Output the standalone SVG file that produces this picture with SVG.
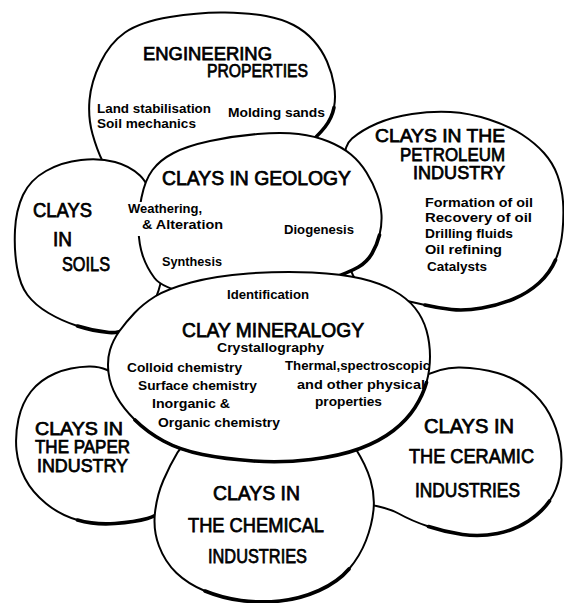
<svg xmlns="http://www.w3.org/2000/svg" width="564" height="603" viewBox="0 0 564 603">
<style>
.o{fill:#fff;stroke:#000;stroke-width:2;stroke-linejoin:round}
.k{fill:none;stroke:#000;stroke-width:3.6;stroke-linecap:round}
.h{font-family:"Liberation Sans",Arial,sans-serif;font-size:20px;fill:#000;stroke:#000;stroke-width:0.75}
.t{font-size:18.5px}
.s{font-family:"Liberation Sans",Arial,sans-serif;font-size:13px;font-weight:bold;fill:#000}
</style>
<rect width="564" height="603" fill="#fff"/>
<g id="engineering">
<path class="o" d="M125,32.5 Q140,22 170,17 Q200,12 225,12.5 Q250,13 266,16 Q282,19 293.5,25 Q305,31 313.5,40.5 Q322,50 327,61.5 Q332,73 334,85 Q336,97 334,107.5 Q332,118 325,127 Q318,136 304,148 Q290,160 255,169 Q220,178 185,181.5 Q150,185 129,178.5 Q108,172 102.5,161 Q97,150 92.5,134 Q88,118 89.5,100 Q91,82 100.5,62.5 Q110,43 125,32.5 Z"/>
<path class="k" d="M334,107.5 Q332,118 325,127 Q318,136 304,148"/>
<text class="h t" x="143" y="60" textLength="129" lengthAdjust="spacingAndGlyphs">ENGINEERING</text>
<text class="h t" x="207" y="77" textLength="101" lengthAdjust="spacingAndGlyphs">PROPERTIES</text>
<text class="s" x="97" y="113" textLength="114" lengthAdjust="spacingAndGlyphs">Land stabilisation</text>
<text class="s" x="97" y="128" textLength="99" lengthAdjust="spacingAndGlyphs">Soil mechanics</text>
<text class="s" x="228" y="117" textLength="97" lengthAdjust="spacingAndGlyphs">Molding sands</text>
</g>
<g id="petroleum">
<path class="o" d="M352,138.5 Q362,130 377,123.5 Q392,117 412,114 Q432,111 450.5,112 Q469,113 489,119.5 Q509,126 522,134.5 Q535,143 544,153 Q553,163 557.5,175.5 Q562,188 563,201.5 Q564,215 562.5,231 Q561,247 555.5,260 Q550,273 539,283 Q528,293 513.5,299 Q499,305 482,308 Q465,311 451.5,309.5 Q438,308 425,305 Q412,302 398.5,299 Q385,296 370,290.5 Q355,285 350,267.5 Q345,250 346,222.5 Q347,195 344.5,171 Q342,147 352,138.5 Z"/>
<path class="k" d="M555.5,260 Q550,273 539,283 Q528,293 513.5,299 Q499,305 482,308 Q465,311 451.5,309.5 Q438,308 425,305"/>
<text class="h t" x="375" y="142" textLength="130" lengthAdjust="spacingAndGlyphs">CLAYS IN THE</text>
<text class="h t" x="400" y="161" textLength="105" lengthAdjust="spacingAndGlyphs">PETROLEUM</text>
<text class="h t" x="413" y="179" textLength="92" lengthAdjust="spacingAndGlyphs">INDUSTRY</text>
<text class="s" x="425" y="207" textLength="108" lengthAdjust="spacingAndGlyphs">Formation of oil</text>
<text class="s" x="425" y="222" textLength="107" lengthAdjust="spacingAndGlyphs">Recovery of oil</text>
<text class="s" x="425" y="238" textLength="88" lengthAdjust="spacingAndGlyphs">Drilling fluids</text>
<text class="s" x="425" y="254" textLength="77" lengthAdjust="spacingAndGlyphs">Oil refining</text>
<text class="s" x="427" y="271" textLength="60" lengthAdjust="spacingAndGlyphs">Catalysts</text>
</g>
<g id="soils">
<path class="o" d="M115,162 Q130,166 140,175.5 Q150,185 157.5,212.5 Q165,240 162.5,270 Q160,300 142.5,317 Q125,334 109,332.5 Q93,331 77.5,326 Q62,321 48.5,313 Q35,305 27.5,295 Q20,285 17,267.5 Q14,250 15,230 Q16,210 23,195 Q30,180 46,171 Q62,162 81,160 Q100,158 115,162 Z"/>
<path class="k" d="M77.5,326 Q93,331 109,332.5 Q125,334 142.5,317"/>
<text class="h" x="33" y="217" textLength="59" lengthAdjust="spacingAndGlyphs">CLAYS</text>
<text class="h" x="53" y="246" textLength="19" lengthAdjust="spacingAndGlyphs">IN</text>
<text class="h" x="62" y="271" textLength="48" lengthAdjust="spacingAndGlyphs">SOILS</text>
</g>
<g id="geology">
<path class="o" d="M152.5,170 Q160,160 173.5,153 Q187,146 210,141 Q233,136 257.5,134 Q282,132 298.5,134 Q315,136 328.5,141.5 Q342,147 351,154.5 Q360,162 366.5,172.5 Q373,183 377,194 Q381,205 381.5,215 Q382,225 379.5,235 Q377,245 372,253.5 Q367,262 358.5,267 Q350,272 325,281 Q300,290 260,295 Q220,300 191,294 Q162,288 154.5,278 Q147,268 143,256.5 Q139,245 138.5,230 Q138,215 141.5,197.5 Q145,180 152.5,170 Z"/>
<path class="k" d="M379.5,235 Q377,245 372,253.5 Q367,262 358.5,267 Q350,272 325,281"/>
<rect x="134" y="202" width="12" height="34" fill="#fff"/>
<text class="h" x="162" y="185" textLength="189" lengthAdjust="spacingAndGlyphs">CLAYS IN GEOLOGY</text>
<text class="s" x="128" y="213" textLength="74" lengthAdjust="spacingAndGlyphs">Weathering,</text>
<text class="s" x="142" y="229" textLength="81" lengthAdjust="spacingAndGlyphs">&amp; Alteration</text>
<text class="s" x="284" y="234" textLength="70" lengthAdjust="spacingAndGlyphs">Diogenesis</text>
<text class="s" x="162" y="266" textLength="60" lengthAdjust="spacingAndGlyphs">Synthesis</text>
</g>
<g id="paper">
<path class="o" d="M89,366.5 Q70,367 55,373.5 Q40,380 31,391.5 Q22,403 18.5,419 Q15,435 16.5,450 Q18,465 25,478.5 Q32,492 46,503.5 Q60,515 77.5,520 Q95,525 115,523.5 Q135,522 147.5,518.5 Q160,515 175,500 Q190,485 185,457.5 Q180,430 157.5,412.5 Q135,395 121.5,380.5 Q108,366 89,366.5 Z"/>
<path class="k" d="M77.5,520 Q95,525 115,523.5 Q135,522 147.5,518.5 Q160,515 175,500"/>
<text class="h t" x="35" y="435" textLength="88" lengthAdjust="spacingAndGlyphs">CLAYS IN</text>
<text class="h t" x="35" y="453" textLength="95" lengthAdjust="spacingAndGlyphs">THE PAPER</text>
<text class="h t" x="37" y="472" textLength="91" lengthAdjust="spacingAndGlyphs">INDUSTRY</text>
</g>
<g id="ceramic">
<path class="o" d="M460,367.5 Q480,368 497.5,373 Q515,378 528.5,389 Q542,400 549.5,414 Q557,428 560,444 Q563,460 560,475 Q557,490 549.5,501 Q542,512 528.5,521 Q515,530 497.5,533.5 Q480,537 462.5,534.5 Q445,532 428.5,526.5 Q412,521 398.5,513.5 Q385,506 357.5,503 Q330,500 330,460 Q330,420 365,405 Q400,390 420,378.5 Q440,367 460,367.5 Z"/>
<path class="k" d="M549.5,501 Q542,512 528.5,521 Q515,530 497.5,533.5 Q480,537 462.5,534.5 Q445,532 428.5,526.5"/>
<text class="h" x="424" y="433" textLength="90" lengthAdjust="spacingAndGlyphs">CLAYS IN</text>
<text class="h" x="409" y="463" textLength="125" lengthAdjust="spacingAndGlyphs">THE CERAMIC</text>
<text class="h" x="415" y="497" textLength="105" lengthAdjust="spacingAndGlyphs">INDUSTRIES</text>
</g>
<g id="chemical">
<path class="o" d="M222.5,429 Q260,418 302.5,425 Q345,432 355.5,448.5 Q366,465 370.5,480 Q375,495 373.5,510 Q372,525 366,540.5 Q360,556 349,569 Q338,582 319,590.5 Q300,599 280,601 Q260,603 241,600.5 Q222,598 205,591 Q188,584 176.5,573 Q165,562 159,546 Q153,530 155,512.5 Q157,495 163.5,480 Q170,465 177.5,452.5 Q185,440 222.5,429 Z"/>
<path class="k" d="M349,569 Q338,582 319,590.5 Q300,599 280,601 Q260,603 241,600.5 Q222,598 205,591"/>
<text class="h" x="213" y="500" textLength="87" lengthAdjust="spacingAndGlyphs">CLAYS IN</text>
<text class="h" x="188" y="532" textLength="136" lengthAdjust="spacingAndGlyphs">THE CHEMICAL</text>
<text class="h" x="208" y="563" textLength="99" lengthAdjust="spacingAndGlyphs">INDUSTRIES</text>
</g>
<g id="mineralogy">
<path class="o" d="M191,282.5 Q215,276 248.5,273.5 Q282,271 312,272.5 Q342,274 361,278.5 Q380,283 393.5,290.5 Q407,298 415,308 Q423,318 426.5,330.5 Q430,343 430,356.5 Q430,370 426.5,382.5 Q423,395 415,407.5 Q407,420 393.5,430.5 Q380,441 360,448.5 Q340,456 311,459.5 Q282,463 253.5,461 Q225,459 202.5,454.5 Q180,450 163.5,441 Q147,432 135,420 Q123,408 116.5,396.5 Q110,385 108.5,372.5 Q107,360 110,350 Q113,340 119.5,331 Q126,322 134.5,313 Q143,304 155,296.5 Q167,289 191,282.5 Z"/>
<path class="k" d="M426.5,382.5 Q423,395 415,407.5 Q407,420 393.5,430.5 Q380,441 360,448.5 Q340,456 311,459.5 Q282,463 253.5,461 Q225,459 202.5,454.5 Q180,450 163.5,441 Q147,432 135,420"/>
<text class="s" x="227" y="299" textLength="82" lengthAdjust="spacingAndGlyphs">Identification</text>
<text class="h" x="182" y="337" textLength="182" lengthAdjust="spacingAndGlyphs">CLAY MINERALOGY</text>
<text class="s" x="217" y="352" textLength="107" lengthAdjust="spacingAndGlyphs">Crystallography</text>
<text class="s" x="127" y="372" textLength="115" lengthAdjust="spacingAndGlyphs">Colloid chemistry</text>
<text class="s" x="138" y="390" textLength="119" lengthAdjust="spacingAndGlyphs">Surface chemistry</text>
<text class="s" x="152" y="408" textLength="78" lengthAdjust="spacingAndGlyphs">Inorganic &amp;</text>
<text class="s" x="158" y="427" textLength="122" lengthAdjust="spacingAndGlyphs">Organic chemistry</text>
<text class="s" x="285" y="370" textLength="145" lengthAdjust="spacingAndGlyphs">Thermal,spectroscopic</text>
<text class="s" x="297" y="389" textLength="128" lengthAdjust="spacingAndGlyphs">and other physical</text>
<text class="s" x="315" y="406" textLength="67" lengthAdjust="spacingAndGlyphs">properties</text>
</g>
</svg>
